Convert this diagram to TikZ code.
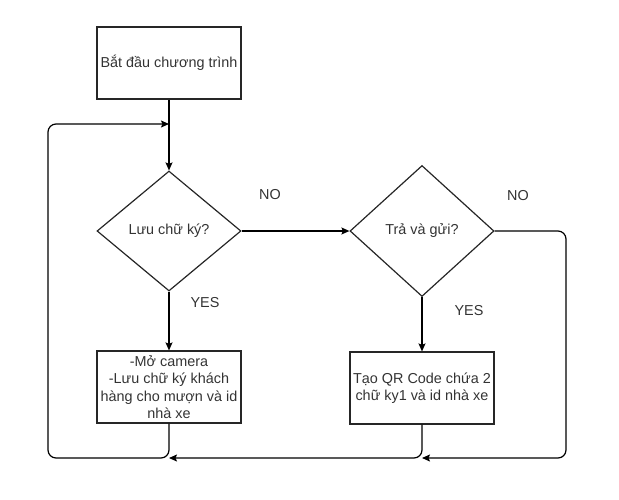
\documentclass[tikz,border=0pt]{standalone}
\usepackage{fontspec}
\setmainfont{Liberation Sans}
\usetikzlibrary{shapes.geometric,arrows.meta}
\definecolor{txt}{HTML}{333333}
\tikzset{
  box/.style={draw=black!85, line width=1.2pt, rectangle, minimum width=144pt, minimum height=72pt, inner sep=0pt, align=center, text=txt, font=\fontsize{14.4}{17.3}\selectfont},
  dec/.style={draw=black!85, line width=1.2pt, diamond, inner sep=0pt, align=center, text=txt, font=\fontsize{14.4}{17.3}\selectfont},
  lbl/.style={text=txt, font=\fontsize{14.4}{17.3}\selectfont, inner sep=0pt},
  flow/.style={draw=black, line width=1.2pt, -{Stealth[length=8pt,width=7pt,inset=1.5pt]}, rounded corners=8pt},
  plain/.style={draw=black, line width=1.2pt, rounded corners=8pt}
}
\begin{document}
\begin{tikzpicture}[x=1pt,y=-1pt]
\useasboundingbox (0,0) rectangle (619,499);
\node[box] (start) at (169,63) {Bắt đầu chương trình};
\node[dec, minimum width=144pt, minimum height=120pt] (d1) at (169,231) {Lưu chữ ký?};
\node[dec, minimum width=144pt, minimum height=131pt] (d2) at (422,231) {Trả và gửi?};
\node[box] (b1) at (169,387) {-Mở camera\\-Lưu chữ ký khách\\hàng cho mượn và id\\nhà xe};
\node[box] (b2) at (422,388) {Tạo QR Code chứa 2\\chữ ky1 và id nhà xe};
\node[lbl] (no1) at (270,195) {NO};
\node[lbl] (no2) at (518,196) {NO};
\node[lbl] (yes1) at (205,303) {YES};
\node[lbl] (yes2) at (469,311) {YES};
\coordinate (j1) at (169,124);
\coordinate (j2) at (169,458);
\coordinate (j3) at (422,458);
\draw[flow] (start) -- (d1);
\draw[flow] (d1.east) -- (d2.west);
\draw[flow] (d1.south) -- (b1.north);
\draw[flow] (d2.south) -- (b2.north);
\draw[flow] (b1.south) -- (j2) -- (48,458) -- (48,124) -- (j1);
\draw[flow] (b2.south) -- (j3) -- (j2);
\draw[flow] (d2.east) -- (566,231) -- (566,458) -- (j3);
\end{tikzpicture}
\end{document}
